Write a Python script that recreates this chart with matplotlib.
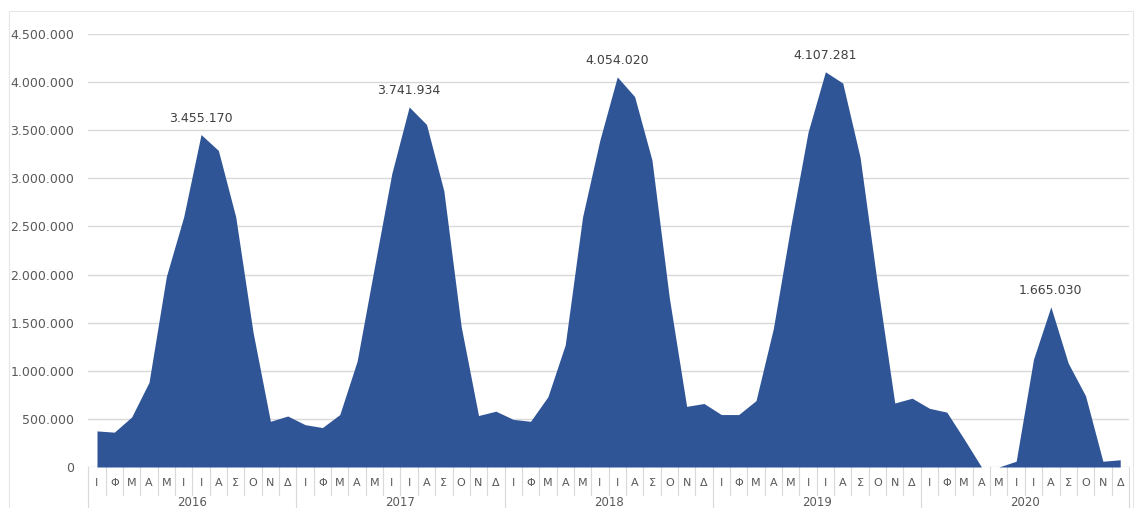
import matplotlib
matplotlib.use("Agg")
import matplotlib.pyplot as plt
from matplotlib.transforms import blended_transform_factory
from matplotlib.patches import Rectangle
from matplotlib.ticker import FuncFormatter

years = ["2016", "2017", "2018", "2019", "2020"]
months = ["Ι", "Φ", "Μ", "Α", "Μ", "Ι", "Ι", "Α", "Σ", "Ο", "Ν", "Δ"]

v2016 = [375000, 362000, 520000, 880000, 1980000, 2600000, 3455170, 3290000, 2600000, 1400000, 475000, 530000]
v2017 = [440000, 410000, 545000, 1100000, 2080000, 3050000, 3741934, 3560000, 2870000, 1460000, 535000, 580000]
v2018 = [495000, 475000, 730000, 1270000, 2600000, 3400000, 4054020, 3850000, 3190000, 1760000, 630000, 660000]
v2019 = [545000, 545000, 690000, 1440000, 2500000, 3480000, 4107281, 3990000, 3220000, 1900000, 665000, 715000]
v2020 = [610000, 570000, 290000, 0, 0, 60000, 1120000, 1665030, 1080000, 740000, 60000, 75000]

peak_labels = ["3.455.170", "3.741.934", "4.054.020", "4.107.281", "1.665.030"]

values = v2016 + v2017 + v2018 + v2019 + v2020
x = list(range(len(values)))

fill_color = "#2F5597"
grid_color = "#D9D9D9"
text_color = "#595959"

fig = plt.figure(figsize=(11.42, 5.08), dpi=100)
fig.patch.set_facecolor("white")
fig.patches.append(Rectangle((9 / 1142, 0), 1 - 18 / 1142, 1 - 11 / 508, transform=fig.transFigure,
                             fill=False, edgecolor="#E6E6E6", linewidth=0.8))

ax = fig.add_axes([88.3 / 1142, 41 / 508, (1128.9 - 88.3) / 1142, 433 / 508])
ax.fill_between(x, values, 0, color=fill_color, linewidth=0, zorder=3)
ax.set_xlim(-0.5, len(values) - 0.5)
ax.set_ylim(0, 4500000)
ax.set_yticks([i * 500000 for i in range(10)])
ax.yaxis.set_major_formatter(FuncFormatter(lambda v, p: f"{int(v):,}".replace(",", ".")))
ax.tick_params(axis="y", length=0, pad=10, labelsize=9, labelcolor=text_color)
ax.set_xticks([])
ax.grid(axis="y", color=grid_color, linewidth=1, zorder=0)
for s in ax.spines.values():
    s.set_visible(False)

trans = blended_transform_factory(ax.transData, ax.transAxes)
n = len(values)
for i in range(n + 1):
    is_year = (i % 12 == 0)
    bottom = -0.1 if is_year else -0.065
    ax.plot([i - 0.5, i - 0.5], [0, bottom], transform=trans, color=grid_color,
            linewidth=0.8, clip_on=False)
for i in range(n):
    ax.text(i, -0.036, months[i % 12], transform=trans, ha="center", va="center",
            fontsize=8, color=text_color, clip_on=False)
for k, yr in enumerate(years):
    ax.text(k * 12 + 5.5, -0.082, yr, transform=trans, ha="center", va="center",
            fontsize=8.5, color=text_color, clip_on=False)

# peak labels
yearly = [v2016, v2017, v2018, v2019, v2020]
for k, (vals, lab) in enumerate(zip(yearly, peak_labels)):
    m = max(range(12), key=lambda j: vals[j])
    ax.annotate(lab, (k * 12 + m, vals[m]), xytext=(0, 7), textcoords="offset points",
                ha="center", va="bottom", fontsize=9, color="#404040", zorder=5)

fig.savefig("out.png", dpi=100, facecolor="white")
